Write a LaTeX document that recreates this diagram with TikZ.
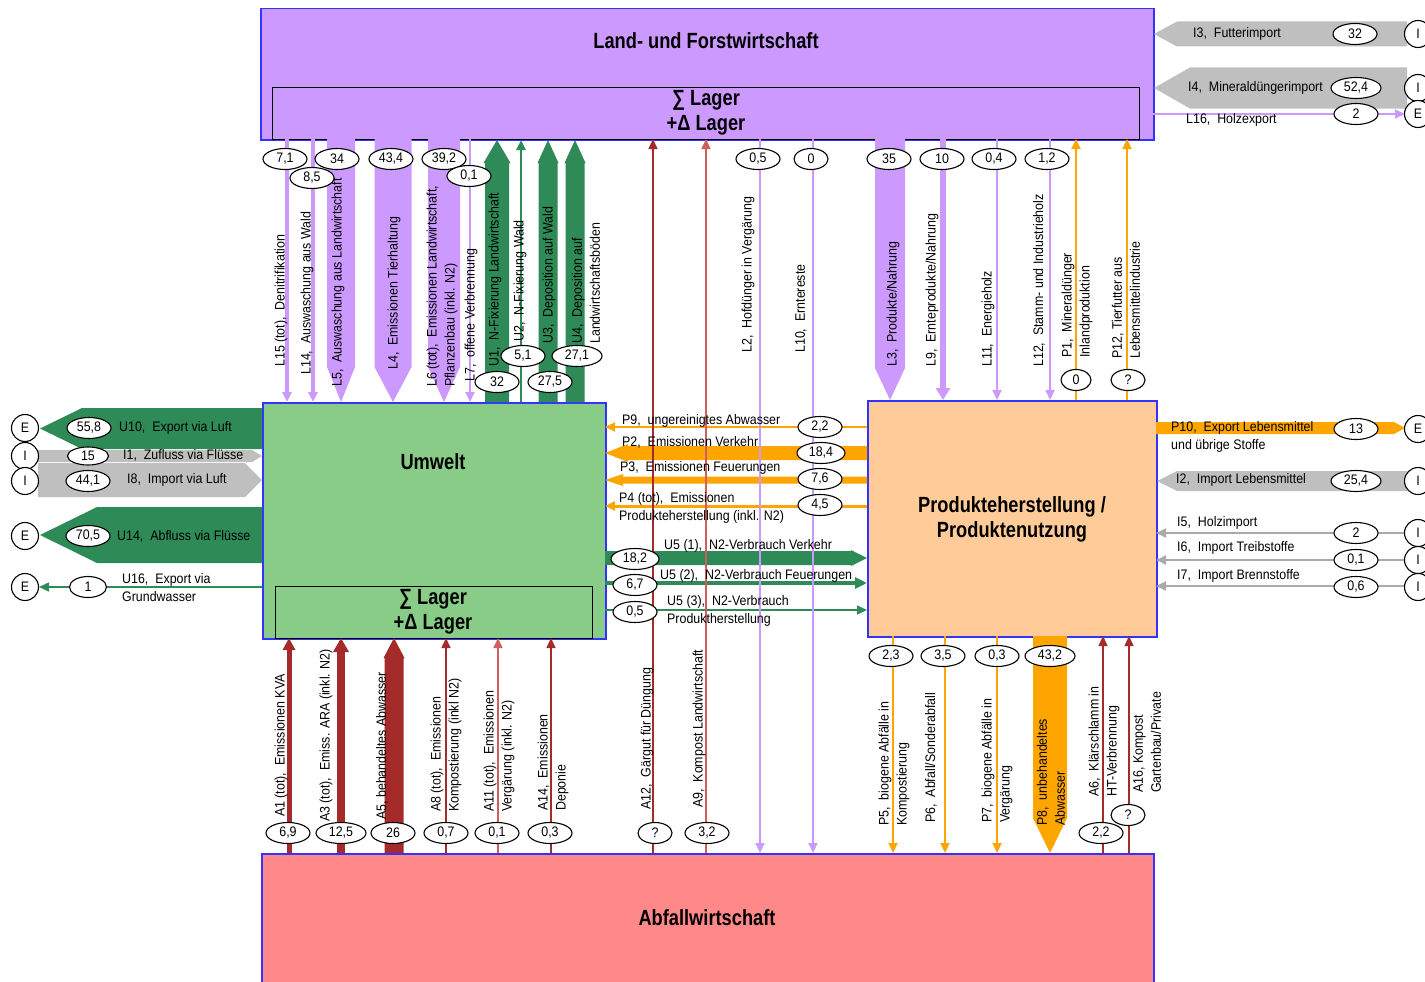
\documentclass[tikz,border=0pt]{standalone}
\usepackage{fontspec}
\setmainfont{Liberation Sans}[FakeStretch=0.9]
\newfontfamily\tfont{Liberation Sans}[FakeStretch=0.83]
\usetikzlibrary{arrows.meta,shapes.geometric}
\definecolor{purp}{RGB}{204,153,255}
\definecolor{grn}{RGB}{46,139,87}
\definecolor{boxgrn}{RGB}{136,204,136}
\definecolor{org}{RGB}{255,165,0}
\definecolor{peach}{RGB}{255,204,153}
\definecolor{boxred}{RGB}{255,136,136}
\definecolor{dred}{RGB}{165,42,42}
\definecolor{lred}{RGB}{205,95,95}
\definecolor{gry}{RGB}{191,191,191}
\definecolor{lgry}{RGB}{170,170,170}
\definecolor{bblue}{RGB}{51,51,255}
% vertical band arrow: x, ytail, yheadbase, ytip, halfwidth, headhalfwidth, colour
\newcommand\vband[7]{\fill[#7] ({#1-#5},{#2}) -- ({#1+#5},{#2}) -- ({#1+#5},{#3}) -- ({#1+#6},{#3}) -- ({#1},{#4}) -- ({#1-#6},{#3}) -- ({#1-#5},{#3}) -- cycle;}
% horizontal band arrow: y, xtail, xheadbase, xtip, halfheight, headhalfheight, colour
\newcommand\hband[7]{\fill[#7] ({#2},{#1-#5}) -- ({#3},{#1-#5}) -- ({#3},{#1-#6}) -- ({#4},{#1}) -- ({#3},{#1+#6}) -- ({#3},{#1+#5}) -- ({#2},{#1+#5}) -- cycle;}
\begin{document}
\begin{tikzpicture}[x=1pt,y=-1pt,font=\fontsize{13.8}{18}\selectfont,
  box/.style={draw=bblue,line width=1.5pt,anchor=north west,inner sep=0pt},
  lager/.style={draw=black,line width=1.2pt,anchor=north west,inner sep=0pt},
  title/.style={font=\tfont\bfseries\fontsize{22}{25}\selectfont,align=center,inner sep=0pt},
  val/.style={ellipse,draw=black,fill=white,line width=1.1pt,minimum width=44pt,minimum height=21pt,inner sep=0pt},
  sval/.style={val,minimum width=34pt},
  io/.style={circle,draw=black,fill=white,line width=1.1pt,minimum size=27pt,inner sep=0pt},
  vlab/.style={rotate=90,anchor=west,align=left,inner sep=0pt},
  hlab/.style={anchor=west,align=left,inner sep=0pt},
  tipS/.style={-{Triangle[length=10pt,width=9pt]}}]
\useasboundingbox (0,0) rectangle (1425,982);

% ---------------- boxes
\node[box,fill=purp,minimum width=893pt,minimum height=131pt] (lf) at (260,8) {};
\node[lager,minimum width=867pt,minimum height=52pt] (lflag) at (272,87) {};
\node[title] (lft) at (706,41) {Land- und Forstwirtschaft};
\node[title] (lflt) at (706,113) {∑ Lager\\+Δ Lager};

\node[box,fill=boxgrn,minimum width=343pt,minimum height=236pt] (um) at (262,402) {};
\node[lager,minimum width=317pt,minimum height=52pt] (umlag) at (275,586) {};
\node[title] (umt) at (433,462) {Umwelt};
\node[title] (umlt) at (433,612) {∑ Lager\\+Δ Lager};

\node[box,fill=peach,minimum width=289pt,minimum height=236pt] (pr) at (867,400) {};
\node[title] (prt) at (1012,519) {Produkteherstellung /\\Produktenutzung};

\node[box,fill=boxred,minimum width=892pt,minimum height=140pt] (ab) at (261,853) {};
\node[title] (abt) at (707,918) {Abfallwirtschaft};

% ---------------- horizontal flows
% right of L&F
\hband{34}{1407}{1177}{1154}{12.5}{12.5}{gry}
\hband{88}{1407}{1190}{1154}{20.5}{20.5}{gry}
\draw[purp,line width=2pt,tipS] (1153,114) -- (1405,114);
% left of Umwelt
\hband{428.5}{262}{82}{40}{20.5}{20.5}{grn}
\hband{456}{38}{252}{262}{6}{6}{gry}
\hband{480}{38}{245}{262}{17}{17}{gry}
\hband{535}{262}{97}{40}{28}{28}{grn}
\draw[grn,line width=1.5pt,tipS] (262,587) -- (39,587);
% between Produkt and Umwelt
\draw[org,line width=2pt,tipS] (867,427) -- (605,427);
\hband{453}{867}{628}{605}{7}{9}{org}
\hband{480}{867}{623}{605}{3.5}{6}{org}
\draw[org,line width=3pt,tipS] (867,506) -- (605,506);
\hband{558}{605}{851}{867}{7}{8}{grn}
\draw[grn,line width=4pt,-{Triangle[length=12pt,width=11pt]}] (605,583) -- (867,583);
\draw[grn,line width=1.5pt,tipS] (605,610) -- (867,610);
% right of Produkt
\hband{428}{1156}{1394}{1405}{6}{6}{org}
\hband{481}{1407}{1177}{1157}{10}{10}{gry}
\draw[lgry,line width=2pt,tipS] (1405,533) -- (1156,533);
\draw[lgry,line width=2pt,tipS] (1405,560) -- (1156,560);
\draw[lgry,line width=2pt,tipS] (1405,586) -- (1156,586);

% ---------------- vertical flows
% L&F -> Umwelt
\draw[purp,line width=4pt,tipS] (287,139) -- (287,402);
\draw[purp,line width=4pt,tipS] (313,139) -- (313,402);
\vband{341}{139}{367}{402}{14}{14}{purp}
\vband{393}{139}{367}{402}{18.5}{18.5}{purp}
\vband{444}{139}{367}{402}{16}{16}{purp}
\draw[purp,line width=2pt,tipS] (470,139) -- (470,402);
% Umwelt -> L&F
\vband{497}{402}{163}{140}{12}{13.5}{grn}
\draw[grn,line width=2.5pt,tipS] (521,402) -- (521,140);
\vband{548}{402}{163}{140}{9.5}{10.5}{grn}
\vband{575}{402}{163}{140}{9.5}{10.5}{grn}
% Abfall <-> L&F
\draw[dred,line width=1.5pt,tipS] (653,853) -- (653,139);
\draw[lred,line width=1.5pt,tipS] (706,853) -- (706,139);
\draw[purp,line width=2pt,tipS] (760,139) -- (760,853);
\draw[purp,line width=2pt,tipS] (813,139) -- (813,853);
% L&F -> Produkt
\vband{890}{139}{368}{400}{15}{15}{purp}
\draw[purp,line width=6pt,-{Triangle[length=12pt,width=14pt]}] (943,139) -- (943,400);
\draw[purp,line width=2pt,tipS] (997,139) -- (997,400);
\draw[purp,line width=2pt,tipS] (1050,139) -- (1050,400);
\draw[org,line width=2pt,tipS] (1076,400) -- (1076,139);
\draw[org,line width=2pt,tipS] (1127,400) -- (1127,139);
% Abfall -> Umwelt
\draw[dred,line width=5pt,-{Triangle[length=12pt,width=12pt]}] (289,853) -- (289,638);
\draw[dred,line width=8pt,-{Triangle[length=14pt,width=15pt]}] (341,853) -- (341,638);
\vband{394}{853}{658}{638}{9.5}{10.5}{dred}
\draw[dred,line width=1.5pt,tipS] (446,853) -- (446,638);
\draw[lred,line width=1.5pt,tipS] (498,853) -- (498,638);
\draw[dred,line width=1.5pt,tipS] (551,853) -- (551,638);
% Produkt -> Abfall
\draw[org,line width=2pt,tipS] (893,636) -- (893,853);
\draw[org,line width=2pt,tipS] (945,636) -- (945,853);
\draw[org,line width=2pt,tipS] (997,636) -- (997,853);
\vband{1050}{636}{818}{853}{17}{17}{org}
% Abfall -> Produkt
\draw[dred,line width=1.5pt,tipS] (1103,853) -- (1103,636);
\draw[dred,line width=1.5pt,tipS] (1129,853) -- (1129,636);

% ---------------- vertical labels
\node[vlab] (t1) at (281,367) {L15 (tot),~~Denitrifikation};
\node[vlab] (t2) at (307,375) {L14,~~Auswaschung aus Wald};
\node[vlab] (t3) at (338,387) {L5,~~Auswaschung aus Landwirtschaft};
\node[vlab] (t4) at (394,370) {L4,~~Emissionen Tierhaltung};
\node[vlab] (t5) at (442,387) {L6 (tot),~~Emissionen Landwirtschaft,\\Pflanzenbau (inkl. N2)};
\node[vlab] (t6) at (471,382) {L7,~~offene Verbrennung};
\node[vlab] (t7) at (495,367) {U1,~~N-Fixierung Landwirtschaft};
\node[vlab] (t8) at (520,342) {U2,~~N-Fixierung Wald};
\node[vlab] (t9) at (549,344) {U3,~~Deposition auf Wald};
\node[vlab] (t10) at (586,344) {U4,~~Deposition auf\\Landwirtschaftsböden};
\node[vlab] (t11) at (748,353) {L2,~~Hofdünger in Vergärung};
\node[vlab] (t12) at (801,353) {L10,~~Erntereste};
\node[vlab] (t13) at (893,367) {L3,~~Produkte/Nahrung};
\node[vlab] (t14) at (932,367) {L9,~~Ernteprodukte/Nahrung};
\node[vlab] (t15) at (988,367) {L11,~~Energieholz};
\node[vlab] (t16) at (1039,367) {L12,~~Stamm- und Industrieholz};
\node[vlab] (t17) at (1077,358) {P1,~~Mineraldünger\\Inlandproduktion};
\node[vlab] (t18) at (1126,359) {P12, Tierfutter aus\\Lebensmittelindustrie};
\node[vlab] (t19) at (281,817) {A1 (tot),~~Emissionen KVA};
\node[vlab] (t20) at (326,822) {A3 (tot),~~Emiss. ARA (inkl. N2)};
\node[vlab] (t21) at (382,820) {A5, behandeltes Abwasser};
\node[vlab] (t22) at (446,812) {A8 (tot),~~Emissionen\\Kompostierung (inkl N2)};
\node[vlab] (t23) at (499,812) {A11 (tot),~~Emissionen\\Vergärung (inkl. N2)};
\node[vlab] (t24) at (553,811) {A14,~~Emissionen\\Deponie};
\node[vlab] (t25) at (647,810) {A12,~~Gärgut für Düngung};
\node[vlab] (t26) at (699,808) {A9,~~Kompost Landwirtschaft};
\node[vlab] (t27) at (894,826) {P5,~~biogene Abfälle in\\Kompostierung};
\node[vlab] (t28) at (931,823) {P6,~~Abfall/Sonderabfall};
\node[vlab] (t29) at (997,823) {P7,~~biogene Abfälle in\\Vergärung};
\node[vlab] (t30) at (1051,826) {P8,~~unbehandeltes\\Abwasser};
\node[vlab] (t31) at (1104,797) {A6,~~Klärschlamm in\\HT-Verbrennung};
\node[vlab] (t32) at (1147,793) {A16, Kompost\\Gartenbau/Private};

% ---------------- horizontal labels
\node[hlab] (h1) at (119,428) {U10,~~Export via Luft};
\node[hlab] (h2) at (123,455) {I1,~~Zufluss via Flüsse};
\node[hlab] (h3) at (127,480) {I8,~~Import via Luft};
\node[hlab] (h4) at (117,536) {U14,~~Abfluss via Flüsse};
\node[hlab] (h5) at (122,588) {U16,~~Export via\\Grundwasser};
\node[hlab] (h6) at (622,421) {P9,~~ungereinigtes Abwasser};
\node[hlab] (h7) at (622,442) {P2,~~Emissionen Verkehr};
\node[hlab] (h8) at (620,468) {P3,~~Emissionen Feuerungen};
\node[hlab] (h9) at (619,508) {P4 (tot),~~Emissionen\\Produkteherstellung (inkl. N2)};
\node[hlab] (h10) at (664,546) {U5 (1),~~N2-Verbrauch Verkehr};
\node[hlab] (h11) at (660,576) {U5 (2),~~N2-Verbrauch Feuerungen};
\node[hlab] (h12) at (667,611) {U5 (3),~~N2-Verbrauch\\Produktherstellung};
\node[hlab] (h13) at (1193,34) {I3,~~Futterimport};
\node[hlab] (h14) at (1188,88) {I4,~~Mineraldüngerimport};
\node[hlab] (h15) at (1186,120) {L16,~~Holzexport};
\node[hlab] (h16) at (1171,437) {P10,~~Export Lebensmittel\\und übrige Stoffe};
\node[hlab] (h17) at (1176,480) {I2,~~Import Lebensmittel};
\node[hlab] (h18) at (1177,523) {I5,~~Holzimport};
\node[hlab] (h19) at (1177,548) {I6,~~Import Treibstoffe};
\node[hlab] (h20) at (1177,576) {I7,~~Import Brennstoffe};

% ---------------- values
\node[val] (v1) at (285,159) {7,1};
\node[val] (v2) at (312,178) {8,5};
\node[val] (v3) at (337,159) {34};
\node[val] (v4) at (391,159) {43,4};
\node[val] (v5) at (444,159) {39,2};
\node[val] (v6) at (469,176) {0,1};
\node[val] (v7) at (523,356) {5,1};
\node[val,minimum width=50pt] (v8) at (577,356) {27,1};
\node[val] (v9) at (497,382) {32};
\node[val] (v10) at (550,382) {27,5};
\node[val] (v11) at (758,159) {0,5};
\node[sval] (v12) at (811,159) {0};
\node[val] (v13) at (889,159) {35};
\node[val] (v14) at (942,159) {10};
\node[val] (v15) at (994,159) {0,4};
\node[val] (v16) at (1047,159) {1,2};
\node[sval,minimum width=30pt] (v17) at (1076,380) {0};
\node[sval] (v18) at (1128,380) {?};
\node[val] (v19) at (1355,34) {32};
\node[val,minimum width=50pt] (v20) at (1356,88) {52,4};
\node[val] (v21) at (1356,114) {2};
\node[val] (v22) at (89,428) {55,8};
\node[val,minimum width=41pt,minimum height=18pt] (v23) at (88,456) {15};
\node[val] (v24) at (88,481) {44,1};
\node[val] (v25) at (88,536) {70,5};
\node[val,minimum width=37pt] (v26) at (88,587) {1};
\node[val] (v27) at (820,427) {2,2};
\node[val,minimum width=48pt] (v28) at (821,453) {18,4};
\node[val] (v29) at (820,479) {7,6};
\node[val] (v30) at (820,505) {4,5};
\node[val,minimum width=48pt] (v31) at (635,559) {18,2};
\node[val] (v32) at (635,585) {6,7};
\node[val] (v33) at (635,612) {0,5};
\node[val] (v34) at (1356,429) {13};
\node[val,minimum width=50pt] (v35) at (1356,481) {25,4};
\node[val] (v36) at (1356,533) {2};
\node[val] (v37) at (1356,560) {0,1};
\node[val] (v38) at (1356,587) {0,6};
\node[val] (v39) at (288,833) {6,9};
\node[val,minimum width=50pt] (v40) at (341,833) {12,5};
\node[val] (v41) at (393,833) {26};
\node[val] (v42) at (446,833) {0,7};
\node[val] (v43) at (497,833) {0,1};
\node[val] (v44) at (550,833) {0,3};
\node[sval] (v45) at (655,833) {?};
\node[val] (v46) at (707,833) {3,2};
\node[val] (v47) at (891,656) {2,3};
\node[val] (v48) at (943,656) {3,5};
\node[val] (v49) at (997,656) {0,3};
\node[val,minimum width=50pt] (v50) at (1050,656) {43,2};
\node[val] (v51) at (1101,833) {2,2};
\node[sval] (v52) at (1128,815) {?};

% ---------------- sources / sinks
\node[io] (c1) at (1418,34) {I};
\node[io] (c2) at (1418,88) {I};
\node[io] (c3) at (1418,114) {E};
\node[io] (c4) at (1418,429) {E};
\node[io] (c5) at (1418,481) {I};
\node[io] (c6) at (1418,533) {I};
\node[io] (c7) at (1418,560) {I};
\node[io] (c8) at (1418,587) {I};
\node[io] (c9) at (25,428) {E};
\node[io] (c10) at (25,456) {I};
\node[io] (c11) at (25,481) {I};
\node[io] (c12) at (25,536) {E};
\node[io] (c13) at (25,587) {E};
\end{tikzpicture}
\end{document}
